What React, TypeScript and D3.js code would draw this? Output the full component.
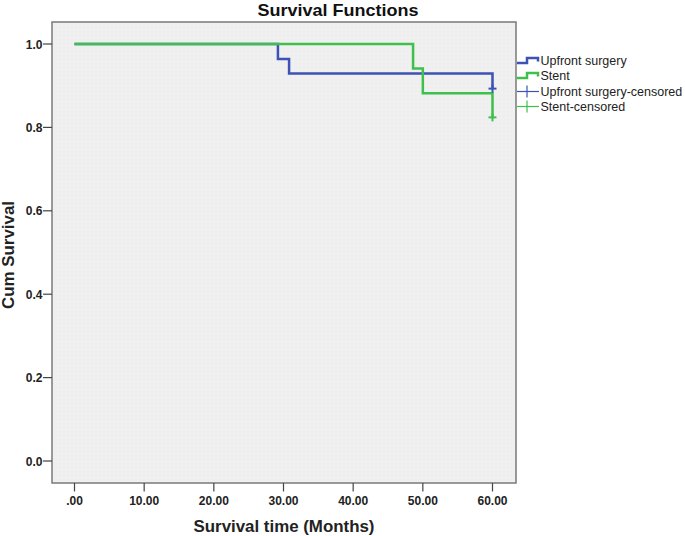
import React from "react";
import * as d3 from "d3";

const xTicks = [0, 10, 20, 30, 40, 50, 60];
const xTickLabels = [".00", "10.00", "20.00", "30.00", "40.00", "50.00", "60.00"];
const yTicks = [0, 0.2, 0.4, 0.6, 0.8, 1.0];
const yTickLabels = ["0.0", "0.2", "0.4", "0.6", "0.8", "1.0"];

const upfrontTimes = [0, 29.2, 30.8, 60];
const upfrontSurv = [1.0, 0.964, 0.929, 0.893];
const upfrontCensorTime = [60];
const upfrontCensorSurv = [0.893];

const stentTimes = [0, 48.6, 50.0, 60];
const stentSurv = [1.0, 0.941, 0.882, 0.824];
const stentCensorTime = [60];
const stentCensorSurv = [0.824];

const legendLabels = ["Upfront surgery", "Stent", "Upfront surgery-censored", "Stent-censored"];

const BLUE = "#3D52B5";
const GREEN = "#3EC04C";

export default function App() {
  const W = 685, H = 536;
  const left = 52, right = 516, top = 22, bottom = 483;
  const x = d3.scaleLinear().domain([0, 60]).range([74.5, 492.5]);
  const y = d3.scaleLinear().domain([0, 1]).range([461, 44]);

  const stepPath = (ts: number[], ss: number[]) => {
    const pts: [number, number][] = ts.map((t, i) => [t, ss[i]]);
    return d3.line<[number, number]>().x(d => x(d[0])).y(d => y(d[1])).curve(d3.curveStepAfter)(pts) || "";
  };
  const font = "'Liberation Sans', Arial, sans-serif";
  const cross = (cx: number, cy: number, color: string, key: string, s = 4) => (
    <g key={key} stroke={color} strokeWidth={2}>
      <line x1={cx - s} x2={cx + s} y1={cy} y2={cy} />
      <line x1={cx} x2={cx} y1={cy - s} y2={cy + s} />
    </g>
  );

  const legendX = 517;
  const legendRows = [60.5, 75.5, 91.5, 106.5];

  return (
    <svg width={W} height={H} style={{ position: "absolute", left: 0, top: 0 }} fontFamily={font}>
      <defs>
        <pattern id="dots" width="4" height="4" patternUnits="userSpaceOnUse">
          <rect width="4" height="4" fill="#efefef" />
          <rect x="1" y="1" width="1" height="1" fill="#f6f6f6" />
        </pattern>
      </defs>
      <rect x={0} y={0} width={W} height={H} fill="#fff" />
      <text x={338} y={15.5} textAnchor="middle" fontSize={17} fontWeight="bold" fill="#111" textLength={161} lengthAdjust="spacingAndGlyphs">Survival Functions</text>
      <rect x={left} y={top} width={right - left} height={bottom - top} fill="url(#dots)" stroke="#7a7a7a" strokeWidth={1.5} />
      {yTicks.map((v, i) => (
        <g key={"y" + i}>
          <line x1={left - 9} x2={left} y1={y(v)} y2={y(v)} stroke="#444" strokeWidth={1.2} />
          <text x={42.5} y={y(v) + 4.5} textAnchor="end" fontSize={12} fontWeight="bold" fill="#222">{yTickLabels[i]}</text>
        </g>
      ))}
      {xTicks.map((v, i) => (
        <g key={"x" + i}>
          <line x1={x(v)} x2={x(v)} y1={bottom} y2={bottom + 8.5} stroke="#444" strokeWidth={1.2} />
          <text x={x(v)} y={505} textAnchor="middle" fontSize={12} fontWeight="bold" fill="#222">{xTickLabels[i]}</text>
        </g>
      ))}
      <text x={284} y={532} textAnchor="middle" fontSize={17} fontWeight="bold" fill="#222" textLength={181} lengthAdjust="spacingAndGlyphs">Survival time (Months)</text>
      <text transform="translate(14,255) rotate(-90)" textAnchor="middle" fontSize={17} fontWeight="bold" fill="#222" textLength={108} lengthAdjust="spacingAndGlyphs">Cum Survival</text>

      <path d={stepPath(upfrontTimes, upfrontSurv)} fill="none" stroke={BLUE} strokeWidth={2.5} />
      <path d={stepPath(stentTimes, stentSurv)} fill="none" stroke={GREEN} strokeWidth={2.5} />
      {upfrontCensorTime.map((t, i) => cross(x(t), y(upfrontCensorSurv[i]), BLUE, "uc" + i))}
      {stentCensorTime.map((t, i) => cross(x(t), y(stentCensorSurv[i]), GREEN, "sc" + i))}

      {legendLabels.map((lab, i) => {
        const ly = legendRows[i];
        const color = i % 2 === 0 ? BLUE : GREEN;
        return (
          <g key={"l" + i}>
            {i < 2 ? (
              <path d={`M${legendX},${ly + 2.5}H${legendX + 10}V${ly - 2.5}H${legendX + 21}V${ly + 1}`} fill="none" stroke={color} strokeWidth={2.5} />
            ) : (
              <g stroke={color} strokeWidth={1.2}>
                <line x1={legendX} x2={legendX + 22} y1={ly} y2={ly} />
                <line x1={legendX + 10} x2={legendX + 10} y1={ly - 6} y2={ly + 6} />
              </g>
            )}
            <text x={legendX + 23.5} y={ly + 4.5} fontSize={12.5} fill="#222">{lab}</text>
          </g>
        );
      })}
    </svg>
  );
}
